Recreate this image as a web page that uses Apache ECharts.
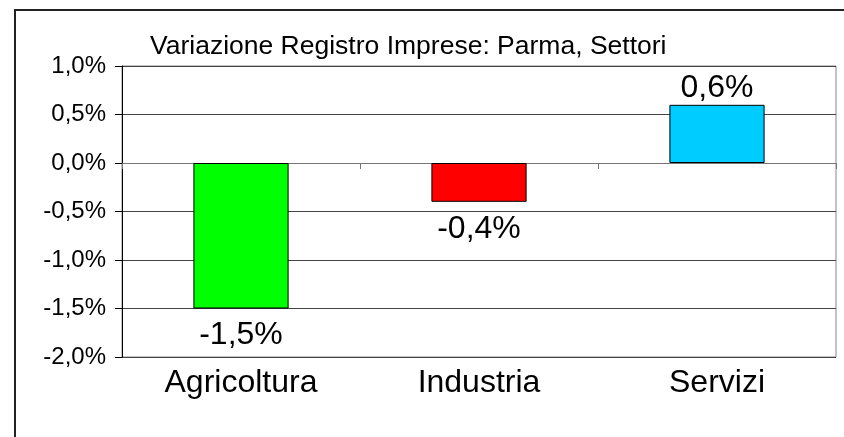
<!DOCTYPE html>
<html>
<head>
<meta charset="utf-8">
<script src="https://cdn.jsdelivr.net/npm/echarts@6/dist/echarts.min.js"></script>
<style>
html,body{margin:0;padding:0;background:#fff;}
#c{width:844px;height:437px;}
</style>
</head>
<body>
<div id="c"></div>
<script>
var titleText = 'Variazione Registro Imprese: Parma, Settori';
var categories = ['Agricoltura', 'Industria', 'Servizi'];
var values = [-1.5, -0.4, 0.6];
var barColors = ['#00FF00', '#FF0000', '#00CCFF'];
var yMin = -2, yMax = 1, yStep = 0.5;

function fmt(v) { return v.toFixed(1).replace('.', ',') + '%'; }

var chart = echarts.init(document.getElementById('c'));
var FONT = '"Liberation Sans", Arial, sans-serif';
chart.setOption({
  animation: false,
  backgroundColor: '#fff',
  graphic: [{
    type: 'rect', z: 100, silent: true,
    shape: { x: 15, y: 10, width: 1000, height: 1000 },
    style: { fill: 'none', stroke: '#222', lineWidth: 2 }
  }],
  title: {
    text: titleText, left: 145, top: 28,
    textStyle: { fontFamily: FONT, fontSize: 26.5, fontWeight: 'normal', color: '#000' }
  },
  grid: { left: 122, right: 8, top: 66, bottom: 80, show: true, borderColor: '#888', borderWidth: 1, backgroundColor: 'transparent' },
  xAxis: [{
    type: 'category', data: categories, position: 'bottom',
    axisLine: { show: false, onZero: false },
    axisTick: { show: false },
    axisLabel: { fontFamily: FONT, fontSize: 32, color: '#000', margin: 10 }
  }, {
    type: 'category', data: categories, position: 'bottom',
    axisLine: { show: true, onZero: true, lineStyle: { color: '#777', width: 1 } },
    axisTick: { show: true, length: 6, inside: false, lineStyle: { color: '#777' } },
    axisLabel: { show: false }
  }],
  yAxis: {
    type: 'value', min: yMin, max: yMax, interval: yStep,
    axisLine: { show: true, lineStyle: { color: '#000' } },
    axisTick: { show: true, length: 7, lineStyle: { color: '#000' } },
    axisLabel: { fontFamily: FONT, fontSize: 24, color: '#000', margin: 16, formatter: fmt },
    splitLine: { show: true, lineStyle: { color: '#444', width: 1 } }
  },
  series: [{
    type: 'bar', xAxisIndex: 0, barWidth: '40%',
    data: values.map(function (v, i) {
      return {
        value: v,
        itemStyle: { color: barColors[i], borderColor: '#000', borderWidth: 1 },
        label: { position: v < 0 ? 'bottom' : 'top', distance: v < 0 ? 11 : 1 }
      };
    }),
    label: {
      show: true, fontFamily: FONT, fontSize: 32, color: '#000',
      formatter: function (p) { return fmt(p.value); }
    }
  }]
});
</script>
</body>
</html>
